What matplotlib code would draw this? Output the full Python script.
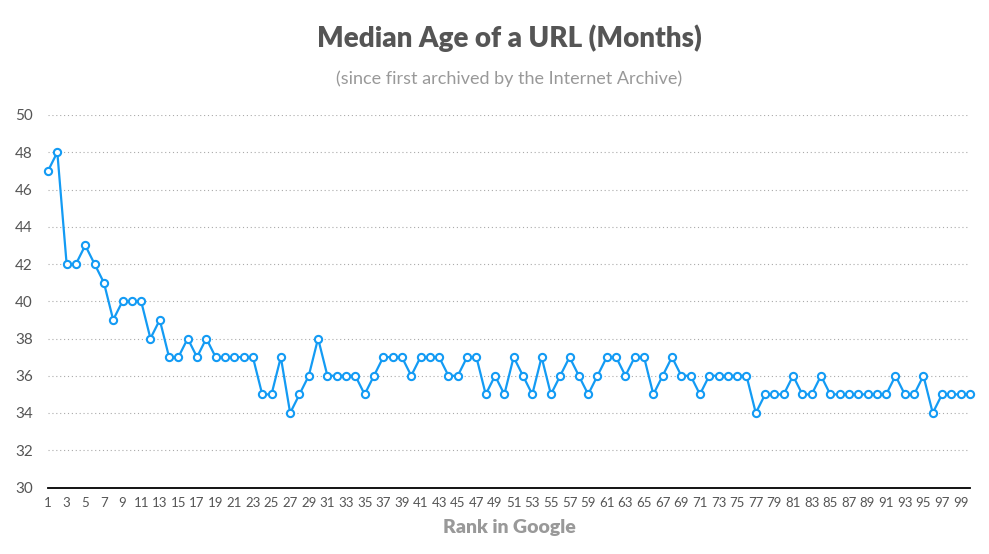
import matplotlib
matplotlib.use('Agg')
import matplotlib.pyplot as plt

# median age (months) for each Google rank 1..100
ranks = list(range(1, 101))
median_age = [47, 48, 42, 42, 43, 42, 41, 39, 40, 40,
              40, 38, 39, 37, 37, 38, 37, 38, 37, 37,
              37, 37, 37, 35, 35, 37, 34, 35, 36, 38,
              36, 36, 36, 36, 35, 36, 37, 37, 37, 36,
              37, 37, 37, 36, 36, 37, 37, 35, 36, 35,
              37, 36, 35, 37, 35, 36, 37, 36, 35, 36,
              37, 37, 36, 37, 37, 35, 36, 37, 36, 36,
              35, 36, 36, 36, 36, 36, 34, 35, 35, 35,
              36, 35, 35, 36, 35, 35, 35, 35, 35, 35,
              35, 36, 35, 35, 36, 34, 35, 35, 35, 35]
x_ticks = list(range(1, 100, 2))
y_ticks = list(range(30, 51, 2))

plt.rcParams['font.family'] = ['Lato', 'DejaVu Sans']

fig = plt.figure(figsize=(9.89, 5.54), dpi=100)
ax = fig.add_axes([48 / 989, 1 - 487.5 / 554, 922 / 989, 372.5 / 554])

line_blue = '#139bf4'
ax.plot(ranks, median_age, color=line_blue, lw=1.6, marker='o', ms=5.2,
        mfc='white', mec=line_blue, mew=1.5, clip_on=False, zorder=3)

ax.set_xlim(1, 100)
ax.set_ylim(30, 50)
ax.set_xticks(x_ticks)
ax.set_yticks(y_ticks)
ax.tick_params(axis='x', length=0, pad=7, labelsize=9.5, labelcolor='#555555')
ax.tick_params(axis='y', length=0, pad=11, labelsize=11, labelcolor='#555555')

for y in y_ticks[1:]:
    ax.axhline(y, color='#aaaaaa', lw=0.8, ls=(0, (1, 2.5)), zorder=1)

for s in ['top', 'right', 'left']:
    ax.spines[s].set_visible(False)
ax.spines['bottom'].set_color('black')
ax.spines['bottom'].set_linewidth(1.3)

cx = (48 + 970) / 2 / 989
fig.text(cx, 1 - 38 / 554, 'Median Age of a URL (Months)', ha='center', va='center',
         fontsize=20, fontweight='heavy', color='#555555')
fig.text(cx, 1 - 79 / 554, '(since first archived by the Internet Archive)', ha='center',
         va='center', fontsize=13, color='#999999')
fig.text(cx, 1 - 527 / 554, 'Rank in Google', ha='center', va='center',
         fontsize=14, fontweight='heavy', color='#999999')

fig.savefig('out.png', dpi=100)
